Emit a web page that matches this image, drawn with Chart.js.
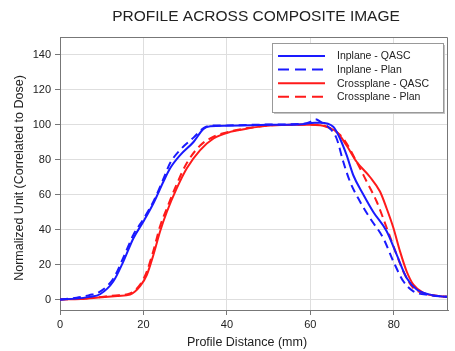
<!DOCTYPE html>
<html>
<head>
<meta charset="utf-8">
<script src="https://cdn.jsdelivr.net/npm/chart.js@4.4.1/dist/chart.umd.min.js"></script>
<style>
    html, body { margin: 0; padding: 0; background: #fff; }
</style>
</head>
<body>
<canvas id="profileChart" width="455" height="351"></canvas>
<script>
// --- Data ---
const chartTitle = 'PROFILE ACROSS COMPOSITE IMAGE';
const xAxisTitle = 'Profile Distance (mm)';
const yAxisTitle = 'Normalized Unit (Correlated to Dose)';
const seriesLabels = ['Inplane - QASC', 'Inplane - Plan', 'Crossplane - QASC', 'Crossplane - Plan'];
const xTicks = [0, 20, 40, 60, 80];
const yTicks = [0, 20, 40, 60, 80, 100, 120, 140];

const inplaneQascX = [0, 4, 7, 9.6, 12.8, 15.2, 17.6, 20, 22.4, 24.8, 26.4, 28.8, 32, 34.4, 36, 40, 50, 58, 61, 62.4, 65.5, 67.1, 68.7, 70.3, 72.7, 75.1, 78.3, 80.7, 83.1, 85.5, 88.7, 91.1, 93];
const inplaneQascY = [0, 0.5, 1.5, 3, 10.4, 21.8, 35, 44.6, 55, 67.4, 75, 82.5, 90, 97.5, 99, 99.3, 99.8, 100.2, 101, 101, 98.7, 92, 82.5, 71, 60, 50, 39, 25.6, 12.3, 5.7, 2.8, 1.9, 1.5];

const inplanePlanX = [0, 4, 7, 9.6, 12.8, 15.2, 17.6, 20, 22.4, 24.8, 26.4, 28.8, 32, 34.4, 36, 40, 50, 58, 60, 61.2, 62.5, 64.7, 66.3, 67.9, 69.5, 71.9, 74.3, 77.5, 79.9, 82.3, 84.7, 88.7, 93];
const inplanePlanY = [0, 1, 2.5, 4.5, 12, 24, 37, 46, 56, 69, 78, 85.5, 92.5, 98, 99.3, 99.5, 100, 100.3, 101.5, 103, 101.5, 97.7, 92, 78.7, 67.4, 56, 46.5, 35, 21.8, 10.4, 4.7, 2.5, 1.5];

const crossplaneQascX = [0, 5, 10, 14, 16.8, 19.2, 20.8, 22.4, 24, 25.6, 28, 30.4, 33.6, 36.8, 40.8, 43, 47, 51, 56, 60, 62.4, 64, 66.3, 68.7, 71.1, 74.3, 76.7, 78.3, 79.9, 81.5, 83.1, 84.7, 87.1, 91.1, 93];
const crossplaneQascY = [0, 0.3, 1.3, 2, 2.8, 7.6, 14, 25.6, 39, 50, 63.6, 75, 85.4, 92, 95.8, 96.8, 98.5, 99.5, 99.8, 99.8, 99.6, 98.5, 95.8, 88, 78.7, 70, 61.7, 52, 41, 27.5, 16, 8.5, 3.8, 1.9, 1.5];

const crossplanePlanX = [0, 5, 10, 14, 16.8, 19.2, 20.8, 22.4, 24, 25.6, 28, 30.4, 33.6, 36.8, 40.8, 45, 51, 56, 60, 63, 65.5, 67.9, 71.1, 73.5, 75.9, 78.3, 80.7, 82.3, 84.7, 88.7, 93];
const crossplanePlanY = [0, 0.5, 1.5, 2.5, 3.5, 8.5, 16, 28, 42, 52, 66, 78, 88, 93, 96, 98, 99.5, 99.8, 100, 99.5, 97, 92, 78.7, 67.4, 56, 41, 25.6, 16, 6.6, 2.8, 1.5];

const FONT = '"Liberation Sans", Arial, sans-serif';
const BLUE = '#1a1aff';
const RED = '#ff1a1a';
const DASH = [8, 5];

function toPoints(xs, ys) {
    return xs.map((x, i) => ({ x: x, y: ys[i] }));
}

function makeSeries(label, xs, ys, color, dash) {
    return {
        label: label,
        data: toPoints(xs, ys),
        borderColor: color,
        backgroundColor: color,
        borderWidth: 2,
        borderDash: dash,
        pointRadius: 0,
        cubicInterpolationMode: 'monotone',
        fill: false
    };
}

// --- Frame, titles and legend drawn on top ---
const decorPlugin = {
    id: 'decor',
    afterDraw(chart) {
        const c = chart.ctx;
        const area = chart.chartArea;
        c.save();

        // top and right edges of the plot box
        c.strokeStyle = '#777';
        c.lineWidth = 1;
        c.beginPath();
        c.moveTo(area.left, area.top + 0.5);
        c.lineTo(area.right - 0.5, area.top + 0.5);
        c.lineTo(area.right - 0.5, area.bottom);
        c.stroke();

        c.fillStyle = '#222';
        c.textAlign = 'center';
        c.textBaseline = 'middle';
        c.font = '15.5px ' + FONT;
        c.fillText(chartTitle, 256, 17);

        c.font = '12.5px ' + FONT;
        c.fillText(xAxisTitle, 247, 343);

        c.save();
        c.translate(20, 178);
        c.rotate(-Math.PI / 2);
        c.fillText(yAxisTitle, 0, 0);
        c.restore();

        // legend box
        const bx = 272, by = 43, bw = 171, bh = 69;
        c.fillStyle = '#c4c4c4';
        c.fillRect(bx + 2, by + 2, bw, bh);
        c.fillStyle = '#fff';
        c.fillRect(bx, by, bw, bh);
        c.strokeStyle = '#999';
        c.strokeRect(bx + 0.5, by + 0.5, bw, bh);

        c.font = '10.5px ' + FONT;
        c.textAlign = 'left';
        chart.data.datasets.forEach((ds, i) => {
            const rowY = by + 13 + i * 13.6;
            c.strokeStyle = ds.borderColor;
            c.lineWidth = 2;
            c.setLineDash(ds.borderDash.length ? [11, 6] : []);
            c.beginPath();
            c.moveTo(bx + 6, rowY);
            c.lineTo(bx + 53, rowY);
            c.stroke();
            c.setLineDash([]);
            c.fillStyle = '#222';
            c.fillText(ds.label, bx + 65, rowY + 0.5);
        });
        c.restore();
    }
};

const tickFont = { family: FONT, size: 11 };

new Chart(document.getElementById('profileChart'), {
    type: 'line',
    data: {
        datasets: [
            makeSeries(seriesLabels[0], inplaneQascX, inplaneQascY, BLUE, []),
            makeSeries(seriesLabels[1], inplanePlanX, inplanePlanY, BLUE, DASH),
            makeSeries(seriesLabels[2], crossplaneQascX, crossplaneQascY, RED, []),
            makeSeries(seriesLabels[3], crossplanePlanX, crossplanePlanY, RED, DASH)
        ]
    },
    options: {
        responsive: false,
        animation: false,
        layout: { padding: { top: 37, right: 7, left: 0, bottom: 0 } },
        plugins: {
            legend: { display: false },
            title: { display: false },
            tooltip: { enabled: false }
        },
        scales: {
            x: {
                type: 'linear',
                min: 0,
                max: 93,
                afterBuildTicks: s => { s.ticks = xTicks.map(v => ({ value: v })); },
                afterFit: s => { s.height = 41; },
                grid: { color: '#dedede', tickColor: '#777', tickLength: 5 },
                border: { color: '#777' },
                ticks: { font: tickFont, color: '#222', padding: 3, maxRotation: 0 }
            },
            y: {
                type: 'linear',
                min: -6,
                max: 150,
                afterBuildTicks: s => { s.ticks = yTicks.map(v => ({ value: v })); },
                afterFit: s => { s.width = 60; },
                grid: { color: '#dedede', tickColor: '#777', tickLength: 5 },
                border: { color: '#777' },
                ticks: { font: tickFont, color: '#222', padding: 4 }
            }
        }
    },
    plugins: [decorPlugin]
});
</script>
</body>
</html>
